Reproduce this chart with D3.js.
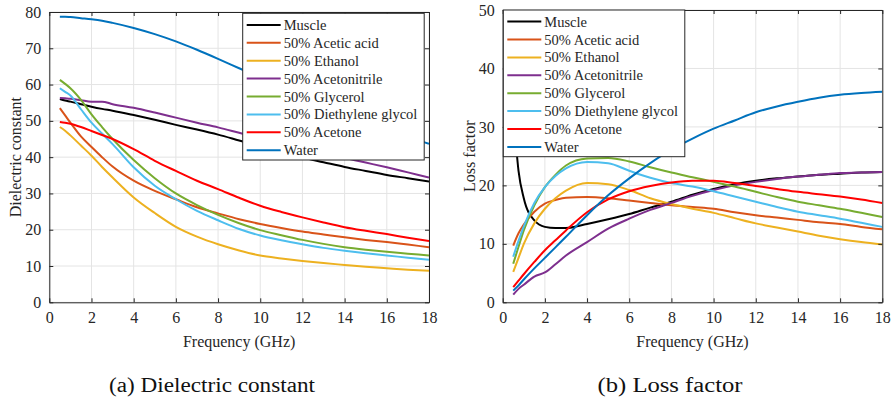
<!DOCTYPE html>
<html>
<head>
<meta charset="utf-8">
<script src="https://cdn.jsdelivr.net/npm/d3@7"></script>
<style>
  body { margin: 0; background: #fff; }
  text { font-family: "Liberation Serif", "Times New Roman", serif; fill: #262626; }
</style>
</head>
<body>
<svg id="fig" width="894" height="402"></svg>
<script>
// frequency samples (GHz) shared by every series
const freqGHz = [0.5, 0.75, 1, 1.5, 2, 2.5, 3, 4, 5, 6, 7, 8, 9, 10, 11, 12, 13, 14, 15, 16, 17, 18];

const seriesNames = ["Muscle", "50% Acetic acid", "50% Ethanol", "50% Acetonitrile",
  "50% Glycerol", "50% Diethylene glycol", "50% Acetone", "Water"];

// dielectric constant (a)
const dcMuscle      = [56.0, 55.6, 55.3, 54.6, 53.9, 53.3, 52.8, 51.6, 50.3, 48.9, 47.6, 46.2, 44.6, 43.0, 41.4, 39.9, 38.6, 37.3, 36.2, 35.1, 34.2, 33.3];
const dcAcetic      = [53.5, 51.5, 49.5, 45.7, 42.8, 40.0, 37.4, 33.5, 30.7, 28.4, 26.2, 24.5, 22.9, 21.6, 20.5, 19.5, 18.7, 17.9, 17.2, 16.6, 15.9, 15.2];
const dcEthanol     = [48.3, 47.3, 46.0, 43.2, 40.4, 37.3, 34.4, 28.9, 24.6, 20.8, 18.1, 16.0, 14.3, 12.9, 12.1, 11.4, 10.8, 10.3, 9.8, 9.4, 9.0, 8.7];
const dcAcetonitrile= [56.3, 56.2, 56.1, 55.7, 55.3, 55.3, 54.6, 53.6, 52.3, 50.9, 49.5, 48.2, 46.7, 45.2, 43.8, 42.5, 41.1, 39.8, 38.5, 37.2, 35.8, 34.4];
const dcGlycerol    = [61.3, 60.2, 59.0, 55.8, 51.8, 48.3, 45.0, 39.2, 34.2, 30.0, 26.8, 24.1, 21.8, 19.9, 18.5, 17.2, 16.1, 15.2, 14.5, 13.9, 13.4, 12.9];
const dcDiethylene  = [59.0, 58.0, 57.0, 53.2, 49.5, 46.5, 43.6, 37.2, 32.1, 28.4, 25.2, 22.6, 20.2, 18.4, 17.1, 16.0, 15.0, 14.2, 13.5, 12.9, 12.3, 11.7];
const dcAcetone     = [49.7, 49.5, 49.2, 48.3, 47.2, 46.1, 45.0, 42.2, 39.0, 36.2, 33.5, 31.2, 28.8, 26.6, 24.9, 23.4, 22.0, 20.7, 19.7, 18.8, 17.8, 16.9];
const dcWater       = [78.7, 78.7, 78.6, 78.3, 78.0, 77.6, 77.0, 75.6, 73.9, 71.9, 69.6, 67.1, 64.5, 61.9, 59.4, 56.9, 54.5, 52.2, 49.9, 47.7, 45.6, 43.7];

// loss factor (b)
const lfMuscle      = [33.0, 22.5, 17.8, 14.0, 12.9, 12.7, 12.7, 13.4, 14.2, 15.1, 16.2, 17.2, 18.4, 19.4, 20.2, 20.8, 21.2, 21.5, 21.8, 22.0, 22.2, 22.3];
const lfAcetic      = [9.7, 11.8, 13.3, 15.5, 16.9, 17.5, 17.9, 18.0, 17.8, 17.4, 17.0, 16.6, 16.3, 16.0, 15.4, 14.9, 14.5, 14.1, 13.7, 13.4, 12.9, 12.5];
const lfEthanol     = [5.2, 7.6, 10.0, 13.5, 16.0, 17.8, 19.1, 20.4, 20.2, 19.2, 17.8, 16.8, 16.0, 15.3, 14.4, 13.5, 12.8, 12.1, 11.4, 10.8, 10.3, 9.9];
const lfAcetonitrile= [1.3, 2.3, 3.0, 4.4, 5.1, 6.5, 8.0, 10.3, 12.6, 14.3, 15.8, 17.0, 18.2, 19.2, 20.0, 20.6, 21.1, 21.5, 21.8, 22.1, 22.2, 22.3];
const lfGlycerol    = [6.6, 9.5, 12.3, 16.6, 19.7, 21.8, 23.4, 24.6, 24.7, 24.1, 23.1, 22.2, 21.4, 20.6, 19.8, 18.9, 18.0, 17.2, 16.6, 16.0, 15.3, 14.6];
const lfDiethylene  = [7.8, 10.5, 13.0, 17.0, 19.7, 21.6, 22.9, 24.0, 23.8, 22.5, 21.3, 20.4, 19.8, 19.0, 18.1, 17.2, 16.3, 15.5, 14.9, 14.3, 13.6, 12.9];
const lfAcetone     = [2.6, 3.7, 4.8, 6.9, 8.9, 10.6, 12.3, 15.4, 17.6, 19.0, 19.9, 20.5, 20.8, 20.8, 20.4, 19.9, 19.4, 18.9, 18.5, 18.1, 17.6, 17.0];
const lfWater       = [2.0, 2.9, 3.9, 5.8, 7.6, 9.4, 11.2, 14.9, 18.3, 21.2, 23.8, 26.1, 28.0, 29.7, 31.1, 32.5, 33.5, 34.3, 35.0, 35.5, 35.8, 36.0];

const xTicks = [0, 2, 4, 6, 8, 10, 12, 14, 16, 18];
const yTicksA = [0, 10, 20, 30, 40, 50, 60, 70, 80];
const yTicksB = [0, 10, 20, 30, 40, 50];

// matlab default line colours
const colors = ["#000000", "#D95319", "#EDB120", "#7E2F8E", "#77AC30", "#4DBEEE", "#FF0000", "#0072BD"];

const svg = d3.select("#fig");
svg.append("rect").attr("width", 894).attr("height", 402).attr("fill", "#fff");

function panel(p) {
  const x = d3.scaleLinear().domain([0, 18]).range([p.left, p.right]);
  const y = d3.scaleLinear().domain([0, p.yMax]).range([p.bottom, p.top]);
  const g = svg.append("g");

  // grid
  g.selectAll(".gx").data(xTicks).enter().append("line")
    .attr("x1", d => x(d)).attr("x2", d => x(d))
    .attr("y1", p.top).attr("y2", p.bottom)
    .attr("stroke", "#e4e4e4").attr("stroke-width", 1);
  g.selectAll(".gy").data(p.yTicks).enter().append("line")
    .attr("x1", p.left).attr("x2", p.right)
    .attr("y1", d => y(d)).attr("y2", d => y(d))
    .attr("stroke", "#e4e4e4").attr("stroke-width", 1);

  // curves, clipped to the axes box
  const clipId = "clip" + p.id;
  svg.append("clipPath").attr("id", clipId).append("rect")
    .attr("x", p.left).attr("y", p.top)
    .attr("width", p.right - p.left).attr("height", p.bottom - p.top);

  const line = d3.line()
    .x((d, i) => x(freqGHz[i]))
    .y(d => y(d))
    .curve(d3.curveMonotoneX);

  g.append("g").attr("clip-path", `url(#${clipId})`)
    .selectAll("path").data(p.series).enter().append("path")
    .attr("d", d => line(d))
    .attr("fill", "none")
    .attr("stroke", (d, i) => colors[i])
    .attr("stroke-width", 2)
    .attr("stroke-linejoin", "round");

  // axes (ticks inside, box on)
  const ax = d3.axisBottom(x).tickValues(xTicks).tickSizeInner(-4).tickSizeOuter(0).tickPadding(9);
  const ay = d3.axisLeft(y).tickValues(p.yTicks).tickSizeInner(-4).tickSizeOuter(0).tickPadding(8);
  const gx = g.append("g").attr("transform", `translate(0,${p.bottom})`).call(ax);
  const gy = g.append("g").attr("transform", `translate(${p.left},0)`).call(ay);
  const gxt = g.append("g").attr("transform", `translate(0,${p.top})`)
    .call(d3.axisTop(x).tickValues(xTicks).tickSizeInner(-4).tickSizeOuter(0).tickFormat(""));
  const gyr = g.append("g").attr("transform", `translate(${p.right},0)`)
    .call(d3.axisRight(y).tickValues(p.yTicks).tickSizeInner(-4).tickSizeOuter(0).tickFormat(""));
  [gx, gy, gxt, gyr].forEach(a => {
    a.select(".domain").attr("stroke", "#262626").attr("stroke-width", 1);
    a.selectAll(".tick line").attr("stroke", "#262626");
    a.selectAll(".tick text").attr("fill", "#262626")
      .style("font-family", '"Liberation Serif", serif').style("font-size", "16px");
  });

  // axis labels
  g.append("text")
    .attr("x", (p.left + p.right) / 2).attr("y", 347)
    .attr("text-anchor", "middle").style("font-size", "16px")
    .text("Frequency (GHz)");
  g.append("text")
    .attr("transform", `translate(${p.yLabelX},${(p.top + p.bottom) / 2}) rotate(-90)`)
    .attr("text-anchor", "middle").style("font-size", "16px")
    .text(p.yLabel);

  // legend
  const lg = g.append("g").attr("transform", `translate(${p.legX},${p.legY})`);
  lg.append("rect").attr("width", 181.5).attr("height", 146.7)
    .attr("fill", "#fff").attr("stroke", "#262626").attr("stroke-width", 1);
  const rows = lg.selectAll(".row").data(seriesNames).enter().append("g")
    .attr("transform", (d, i) => `translate(0,${11.6 + i * 17.9})`);
  rows.append("line").attr("x1", 4).attr("x2", 38)
    .attr("stroke", (d, i) => colors[i]).attr("stroke-width", 2);
  rows.append("text").attr("x", 41).attr("dy", "0.35em")
    .style("font-size", "14.5px").text(d => d);

  // caption
  svg.append("text")
    .attr("x", p.capX).attr("y", 392)
    .attr("text-anchor", "middle")
    .attr("textLength", p.capW).attr("lengthAdjust", "spacingAndGlyphs")
    .style("font-size", "20px").style("fill", "#111")
    .text(p.caption);
}

panel({
  id: "a", left: 49.3, right: 429, top: 12, bottom: 302.3, yMax: 80, yTicks: yTicksA,
  series: [dcMuscle, dcAcetic, dcEthanol, dcAcetonitrile, dcGlycerol, dcDiethylene, dcAcetone, dcWater],
  yLabel: "Dielectric constant", yLabelX: 21,
  legX: 242.7, legY: 13.3, capX: 212, capW: 206, caption: "(a) Dielectric constant"
});

panel({
  id: "b", left: 502.7, right: 882.3, top: 10, bottom: 302.3, yMax: 50, yTicks: yTicksB,
  series: [lfMuscle, lfAcetic, lfEthanol, lfAcetonitrile, lfGlycerol, lfDiethylene, lfAcetone, lfWater],
  yLabel: "Loss factor", yLabelX: 475,
  legX: 503.3, legY: 10, capX: 670, capW: 145, caption: "(b) Loss factor"
});
</script>
</body>
</html>
